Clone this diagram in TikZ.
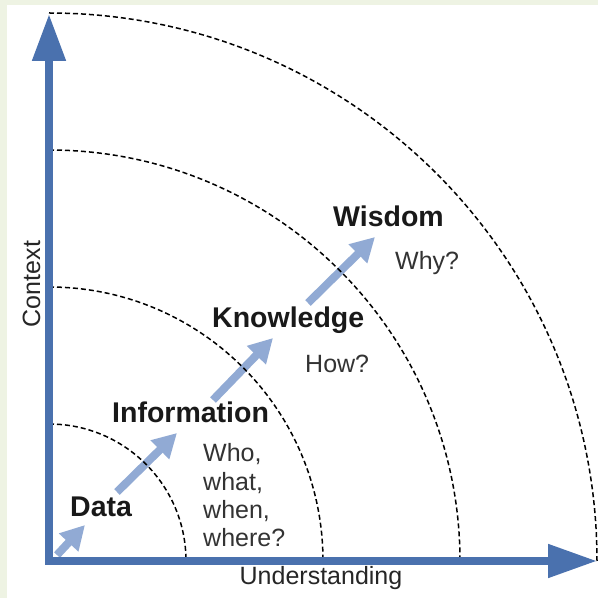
\documentclass[tikz,border=0pt]{standalone}
\usepackage{fontspec}
\setmainfont{Liberation Sans}
\usetikzlibrary{arrows.meta}
\definecolor{slidebg}{RGB}{238,243,227}
\definecolor{axisblue}{RGB}{74,113,174}
\definecolor{stepblue}{RGB}{145,170,212}
\begin{document}
\begin{tikzpicture}[x=1pt,y=1pt,
  axis/.style={axisblue, line width=8pt, line join=miter,
    {Triangle[length=47pt,width=32pt]}-{Triangle[length=49pt,width=32pt]}},
  ring/.style={black, line width=1.5pt, dash pattern=on 5pt off 3pt},
  rise/.style={stepblue, line width=8pt, -{Triangle[length=24pt,width=25pt]}},
  stage/.style={anchor=base west, inner sep=0pt, text=black!90,
    font=\fontsize{28.5}{34}\selectfont\bfseries},
  question/.style={anchor=base west, inner sep=0pt, align=left, text=black!80,
    font=\fontsize{25}{28.5}\selectfont},
  axislabel/.style={anchor=base, inner sep=0pt, text=black!85,
    font=\fontsize{25}{30}\selectfont}]
\useasboundingbox (0,0) rectangle (598,598);
\fill[slidebg] (0,0) rectangle (598,598);
\fill[white] (7,0) rectangle (598,593);
% steps from one level to the next
\coordinate (s0) at (57,43);
\coordinate (s1) at (85,73);
\coordinate (t0) at (117,106);
\coordinate (t1) at (177,165);
\coordinate (u0) at (213,198);
\coordinate (u1) at (273,260);
\coordinate (v0) at (308,295);
\coordinate (v1) at (375,361);
\draw[rise] (s0) -- (s1);
\draw[rise] (t0) -- (t1);
\draw[rise] (u0) -- (u1);
\draw[rise] (v0) -- (v1);
% quarter circles round the origin
\foreach \r in {137,274,411,548}
  \draw[ring] (49,37+\r) arc[start angle=90, end angle=0, radius=\r];
% axes
\coordinate (origin) at (49,37);
\coordinate (ctxtip) at (49,584);
\coordinate (undtip) at (597,37);
\draw[axis] (ctxtip) -- (origin) -- (undtip);
\node[axislabel, rotate=90] (context) at (40,314) {Context};
\node[axislabel] (understanding) at (321,13) {Understanding};
% levels
\node[stage] (data) at (70,81) {Data};
\node[stage] (information) at (112,175) {Information};
\node[stage] (knowledge) at (212,270) {Knowledge};
\node[stage] (wisdom) at (333,371) {Wisdom};
\node[question] (who) at (203,51) {Who,\\what,\\when,\\where?};
\node[question] (how) at (305,225) {How?};
\node[question] (why) at (395,328) {Why?};
\end{tikzpicture}
\end{document}
